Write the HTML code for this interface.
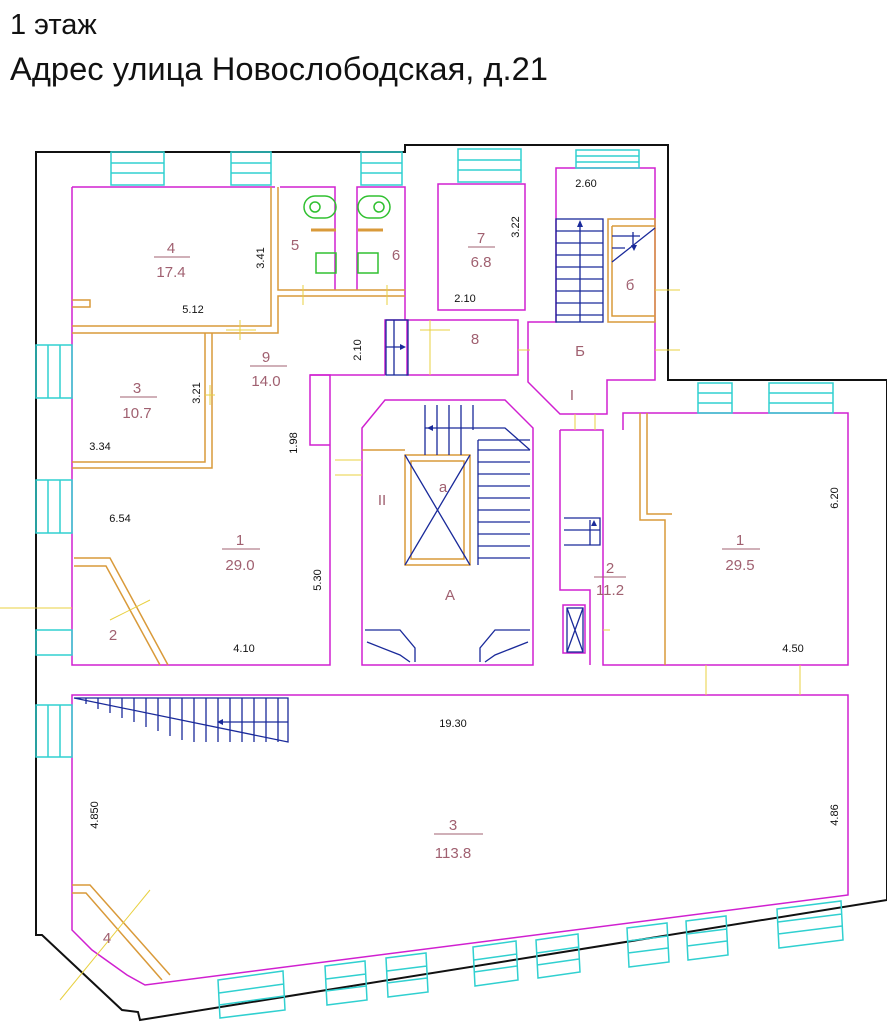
<!DOCTYPE html>
<html><head><meta charset="utf-8"><style>
body{margin:0;background:#fff;width:887px;height:1024px;overflow:hidden}
svg{display:block}
.t{font-family:"Liberation Sans",sans-serif}
</style></head><body>
<svg width="887" height="1024" viewBox="0 0 887 1024" xmlns="http://www.w3.org/2000/svg">
<text x="10" y="34" class="t" font-size="29" fill="#111">1 этаж</text>
<text x="10" y="80" class="t" font-size="32" fill="#111" textLength="538" lengthAdjust="spacingAndGlyphs">Адрес улица Новослободская, д.21</text>

<path d="M36,152 L405,152 L405,145 L668,145 L668,380 L887,380 L887,900 L140,1020 L138,1012 L122,1010 L42,935 L36,935 Z" fill="none" stroke="#111" stroke-width="2"/>

<g fill="none" stroke="#d020d0" stroke-width="1.5">
<path d="M72,187 L275,187"/>
<path d="M72,187 L72,665 L330,665 L330,375 L310,375 L310,445 L330,445"/>
<path d="M280,187 L335,187 L335,290"/><path d="M357,290 L357,187 L405,187 L405,320"/>
<rect x="438" y="184" width="87" height="126"/>
<path d="M556,322 L556,168 L655,168 L655,380 L607,380 L607,414 L560,414 L528,382 L528,322 Z"/>
<rect x="407" y="320" width="111" height="55"/>
<path d="M385,375 L385,320 L407,320"/>
<path d="M310,375 L385,375"/>
<path d="M385,400 L505,400 L533,428 L533,665 L362,665 L362,428 Z"/>
<path d="M560,430 L603,430 L603,665 L848,665 L848,413 L623,413 L623,430"/>
<path d="M560,430 L560,590 L590,590 L590,665"/>
<rect x="563" y="605" width="22" height="48"/>
<path d="M72,695 L848,695 L848,895 L145,985 L127,975 L92,950 L72,930 Z"/>
</g>

<g fill="none" stroke="#d99a3a" stroke-width="1.5">
<path d="M72,326 L271,326 L271,187"/><path d="M72,333 L278,333 L278,296 L405,296"/>
<path d="M278,187 L278,290 L405,290"/>
<path d="M205,333 L205,462 L72,462"/><path d="M212,333 L212,468 L72,468"/>
<path d="M72,300 L90,300 L90,307 L72,307"/>
<path d="M608,219 L655,219 L655,322 L608,322 Z"/><path d="M612,226 L655,226 M612,226 L612,316 L655,316"/>
<path d="M74,558 L110,558 L168,665"/><path d="M74,566 L106,566 L160,665"/>
<path d="M405,455 L470,455 L470,565 L405,565 Z"/><path d="M411,461 L464,461 L464,559 L411,559 Z"/>
<path d="M640,413 L640,520 L665,520 L665,665"/><path d="M647,413 L647,514 L672,514"/>
<path d="M72,885 L90,885 L170,975"/><path d="M72,893 L86,893 L162,980"/>
<path d="M362,450 L405,450"/>
</g>

<g stroke="#e8d040" stroke-width="1">
<path d="M240,320 L240,340 M226,330 L256,330"/><path d="M205,395 L215,395 M210,385 L210,405"/>
<path d="M303,285 L303,305 M387,285 L387,305"/><path d="M420,330 L450,330 M430,320 L430,375"/>
<path d="M335,460 L362,460 M335,475 L362,475"/><path d="M655,290 L680,290 M655,350 L680,350"/>
<path d="M518,350 L530,350"/><path d="M575,414 L575,430 M595,414 L595,430"/>
<path d="M603,630 L610,630"/><path d="M706,665 L706,695 M800,665 L800,695"/>
<path d="M0,608 L72,608 M110,620 L150,600"/><path d="M60,1000 L150,890"/>
</g>

<g fill="none" stroke="#30d0d0" stroke-width="1.5">
<rect x="111" y="152" width="53" height="33"/><path d="M111,163 H164 M111,173 H164"/>
<rect x="231" y="152" width="40" height="33"/><path d="M231,163 H271 M231,173 H271"/>
<rect x="361" y="152" width="41" height="33"/><path d="M361,163 H402 M361,173 H402"/>
<rect x="458" y="149" width="63" height="33"/><path d="M458,160 H521 M458,170 H521"/>
<rect x="576" y="150" width="63" height="18"/><path d="M576,156 H639 M576,162 H639"/>
<rect x="698" y="383" width="34" height="30"/><path d="M698,393 H732 M698,403 H732"/>
<rect x="769" y="383" width="64" height="30"/><path d="M769,393 H833 M769,403 H833"/>
<rect x="36" y="345" width="36" height="53"/><path d="M48,345 V398 M60,345 V398"/>
<rect x="36" y="480" width="36" height="53"/><path d="M48,480 V533 M60,480 V533"/>
<rect x="36" y="630" width="36" height="25"/><rect x="36" y="705" width="36" height="52"/><path d="M48,705 V757 M60,705 V757"/>
<path d="M218,980 L283,971 L285,1010 L220,1018 Z M219,993 L284,984 M219,1005 L284,996"/>
<path d="M325,966 L365,961 L367,1000 L327,1005 Z M326,979 L366,974 M326,991 L366,986"/>
<path d="M386,958 L426,953 L428,992 L388,997 Z M387,971 L427,966 M387,983 L427,978"/>
<path d="M473,947 L516,941 L518,980 L475,986 Z M474,960 L517,954 M474,972 L517,966"/>
<path d="M536,940 L578,934 L580,972 L538,978 Z M537,953 L579,947 M537,965 L579,959"/>
<path d="M627,928 L667,923 L669,962 L629,967 Z M628,941 L668,936 M628,953 L668,948"/>
<path d="M686,921 L726,916 L728,955 L688,960 Z M687,934 L727,929 M687,946 L727,941"/>
<path d="M777,909 L841,901 L843,940 L779,948 Z M778,922 L842,914 M778,934 L842,926"/>
</g>

<g fill="none" stroke="#1a2a9a" stroke-width="1.3">
<rect x="556" y="219" width="47" height="103"/>
<path d="M556,231 H603 M556,243 H603 M556,255 H603 M556,267 H603 M556,279 H603 M556,291 H603 M556,303 H603 M556,315 H603 M580,222 V322"/>
<path d="M612,262 L655,228 M612,236 H640 M612,248 H625 M633,232 V248"/>
<rect x="386" y="320" width="22" height="55"/><path d="M394,320 V375 M386,347 H404"/>
<path d="M425,405 V455 M437,405 V455 M449,405 V455 M461,405 V455 M473,405 V430 M425,428 H505 L530,450"/>
<path d="M478,440 H530 M478,440 V565 M478,450 H530 M478,462 H530 M478,474 H530 M478,486 H530 M478,498 H530 M478,510 H530 M478,522 H530 M478,534 H530 M478,546 H530 M478,558 H530"/>
<path d="M405,455 L470,565 M470,455 L405,565"/>
<path d="M564,518 H600 V545 H564 M564,530 H600 M590,520 V545"/>
<rect x="567" y="608" width="16" height="44"/><path d="M567,608 L583,652 M583,608 L567,652"/>
<path d="M365,630 L400,630 L415,648 L415,662 M367,642 L400,655 L410,662"/>
<path d="M530,630 L495,630 L480,648 L480,662 M528,642 L495,655 L485,662"/>
<path d="M74,698 L288,698 L288,742 Z M86,698 V704 M98,698 V709 M110,698 V713 M122,698 V718 M134,698 V722 M146,698 V727 M158,698 V731 M170,698 V736 M182,698 V740 M194,698 V742 M206,698 V742 M218,698 V742 M230,698 V742 M242,698 V742 M254,698 V742 M266,698 V742 M278,698 V742 M218,722 H288"/>
</g>
<g fill="#1a2a9a"><path d="M580,220 l-3,7 h6 Z M634,251 l-3,-6 h6 Z M406,347 l-6,-3 v6 Z M427,428 l6,-3 v6 Z M217,722 l6,-3 v6 Z M594,520 l-3,6 h6 Z"/></g>

<g fill="none" stroke="#30c030" stroke-width="1.5">
<rect x="304" y="196" width="32" height="22" rx="11"/><circle cx="315" cy="207" r="5"/>
<rect x="358" y="196" width="32" height="22" rx="11"/><circle cx="379" cy="207" r="5"/>
<rect x="316" y="253" width="20" height="20"/><rect x="358" y="253" width="20" height="20"/>
</g>
<g stroke="#d99a3a" stroke-width="3"><path d="M311,230 H336 M358,230 H383"/></g>

<g class="t" fill="#a06070" font-size="15" text-anchor="middle">
<text x="171" y="253">4</text><path d="M154,257 H190" stroke="#a06070"/><text x="171" y="277">17.4</text>
<text x="295" y="250">5</text><text x="396" y="260">6</text>
<text x="481" y="243">7</text><path d="M468,247 H495" stroke="#a06070"/><text x="481" y="267">6.8</text>
<text x="475" y="344">8</text><text x="630" y="290">б</text><text x="580" y="356">Б</text>
<text x="266" y="362">9</text><path d="M250,366 H287" stroke="#a06070"/><text x="266" y="386">14.0</text>
<text x="137" y="393">3</text><path d="M120,397 H157" stroke="#a06070"/><text x="137" y="418">10.7</text>
<text x="240" y="545">1</text><path d="M222,549 H260" stroke="#a06070"/><text x="240" y="570">29.0</text>
<text x="113" y="640">2</text><text x="443" y="492" fill="#a06070">a</text>
<text x="450" y="600">A</text><text x="382" y="505">II</text><text x="572" y="400">I</text>
<text x="740" y="545">1</text><path d="M722,549 H760" stroke="#a06070"/><text x="740" y="570">29.5</text>
<text x="610" y="573">2</text><path d="M594,577 H626" stroke="#a06070"/><text x="610" y="595">11.2</text>
<text x="453" y="830">3</text><path d="M434,834 H483" stroke="#a06070"/><text x="453" y="858">113.8</text>
<text x="107" y="943">4</text>
</g>
<g class="t" fill="#111" font-size="11" text-anchor="middle">
<text x="193" y="313">5.12</text><text x="586" y="187">2.60</text><text x="465" y="302">2.10</text>
<text x="100" y="450">3.34</text><text x="120" y="522">6.54</text><text x="244" y="652">4.10</text>
<text x="793" y="652">4.50</text><text x="453" y="727">19.30</text>
<text transform="translate(264,258) rotate(-90)">3.41</text>
<text transform="translate(519,227) rotate(-90)">3.22</text>
<text transform="translate(361,350) rotate(-90)">2.10</text>
<text transform="translate(200,393) rotate(-90)">3.21</text>
<text transform="translate(297,443) rotate(-90)">1.98</text>
<text transform="translate(321,580) rotate(-90)">5.30</text>
<text transform="translate(838,498) rotate(-90)">6.20</text>
<text transform="translate(98,815) rotate(-90)">4.850</text>
<text transform="translate(838,815) rotate(-90)">4.86</text>
</g>
</svg>
</body></html>
